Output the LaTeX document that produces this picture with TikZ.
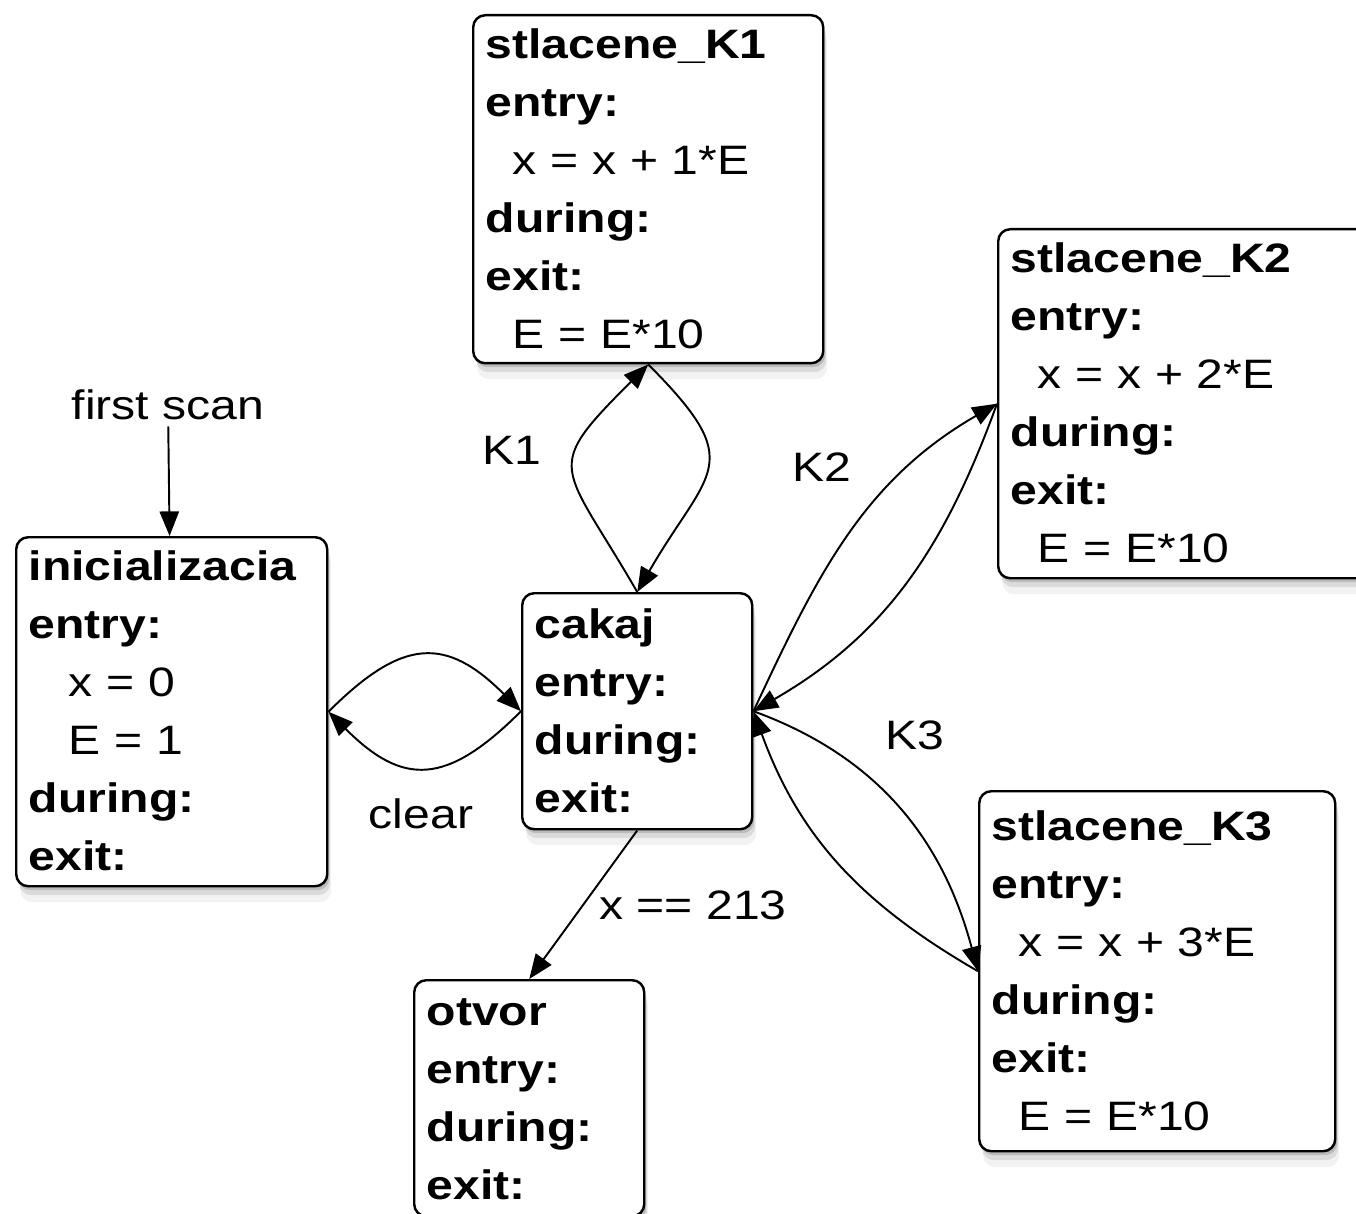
\documentclass[tikz,border=0pt]{standalone}
\usepackage{fontspec}
\setmainfont{Liberation Sans}[FakeStretch=1.17]
\usetikzlibrary{arrows.meta, shadows}
\newcommand{\ind}{\hspace*{0.54cm}}
\newcommand{\indd}{\hspace*{0.8cm}}

\begin{document}
\begin{tikzpicture}[
	font=\fontsize{23.4}{33}\selectfont,
	state/.style={draw, line width=1.4pt, fill=white, rounded corners=0.24cm,
		anchor=north west, align=left, inner xsep=0.25cm, inner ysep=0pt,
		drop shadow={shadow xshift=0.04cm, shadow yshift=-0.08cm, opacity=0.35},
		drop shadow={shadow xshift=0.06cm, shadow yshift=-0.18cm, opacity=0.2},
		drop shadow={shadow xshift=0.08cm, shadow yshift=-0.32cm, opacity=0.1},
		execute at begin node=\rule{0pt}{24.5pt},
		execute at end node=\rule[-8.5pt]{0pt}{8.5pt}},
	tr/.style={->, line width=1.1pt},
	>={Triangle[length=14pt, width=11pt]}
	]
	\useasboundingbox (0,0) rectangle (27.12,-24.28);
	\clip (0,0) rectangle (27.12,-24.28);

	% states
	\node[state, text width=6.5cm, minimum height=6.96cm] (k1) at (9.44,-0.28)
		{\textbf{stlacene\_K1}\\ \textbf{entry:}\\ \ind x = x + 1*E\\ \textbf{during:}\\ \textbf{exit:}\\ \ind E = E*10};
	\node[state, text width=6.9cm, minimum height=6.98cm] (k2) at (19.94,-4.56)
		{\textbf{stlacene\_K2}\\ \textbf{entry:}\\ \ind x = x + 2*E\\ \textbf{during:}\\ \textbf{exit:}\\ \ind E = E*10};
	\node[state, text width=5.72cm, minimum height=6.98cm] (ini) at (0.30,-10.72)
		{\textbf{inicializacia}\\ \textbf{entry:}\\ \indd x = 0\\ \indd E = 1\\ \textbf{during:}\\ \textbf{exit:}};
	\node[state, text width=4.1cm, minimum height=4.72cm] (cakaj) at (10.42,-11.84)
		{\textbf{cakaj}\\ \textbf{entry:}\\ \textbf{during:}\\ \textbf{exit:}};
	\node[state, text width=4.1cm, minimum height=4.72cm] (otvor) at (8.26,-19.58)
		{\textbf{otvor}\\ \textbf{entry:}\\ \textbf{during:}\\ \textbf{exit:}};
	\node[state, text width=6.62cm, minimum height=7.2cm] (k3) at (19.56,-15.80)
		{\textbf{stlacene\_K3}\\ \textbf{entry:}\\ \ind x = x + 3*E\\ \textbf{during:}\\ \textbf{exit:}\\ \ind E = E*10};

	% labels
	\node (fs) at (3.36,-8.1) {first scan};
	\node (lk1) at (10.24,-9.0) {K1};
	\node (lk2) at (16.44,-9.34) {K2};
	\node (lk3) at (18.3,-14.7) {K3};
	\node (lclr) at (8.42,-16.28) {clear};
	\node (lx) at (13.86,-18.1) {x == 213};

	% transitions
	\draw[tr] (fs) -- (ini);
	\draw[tr] (ini.east) to[out=45, in=135, looseness=1.4] (cakaj.west);
	\draw[tr] (cakaj.west) to[out=225, in=-45, looseness=1.4] (ini.east);
	\draw[tr] (cakaj.north) to[out=120, in=225, looseness=1.7] (k1.south);
	\draw[tr] (k1.south) to[out=-45, in=60, looseness=1.6] (cakaj.north);
	\draw[tr] (cakaj.east) to[out=65, in=210] (k2.west);
	\draw[tr] (k2.west) to[out=250, in=30] (cakaj.east);
	\draw[tr] (cakaj.east) to[out=-20, in=105] (k3.west);
	\draw[tr] (k3.west) to[out=150, in=-70] (cakaj.east);
	\draw[tr] (cakaj.south) -- (otvor.north);
\end{tikzpicture}
\end{document}
